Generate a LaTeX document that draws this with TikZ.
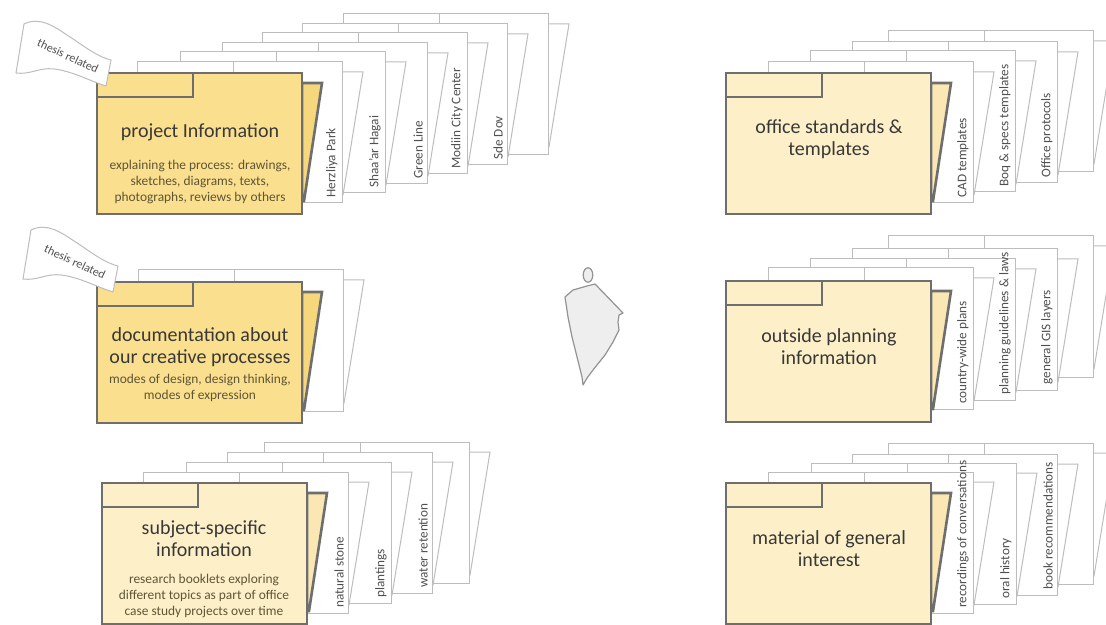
\documentclass[tikz,border=0pt]{standalone}
\usepackage{fontspec}
\setmainfont{Carlito}
\definecolor{framegray}{HTML}{6E6E6E}
\definecolor{backgray}{HTML}{BDBDBD}
\definecolor{labelgray}{HTML}{505050}
\definecolor{titlegray}{HTML}{383838}
\definecolor{notebrown}{HTML}{5E5535}
\definecolor{deepfill}{HTML}{FADF8F}
\definecolor{deepflap}{HTML}{F7D77B}
\definecolor{palefill}{HTML}{FDF0C9}
\definecolor{paleflap}{HTML}{FBE7B4}
\definecolor{figgray}{HTML}{EEEEEE}

% white folder inside a stack: name, x, y, tab text
\newcommand{\backfolder}[4]{%
  \begin{scope}[shift={(#2,#3)}]
    \filldraw[backframe, fill=white] (205,10) -- (226,10) -- (206,133) -- (205,133) -- cycle;
    \filldraw[backframe, fill=white] (0,0) rectangle (205,141);
    \draw[backframe] (0,24) -- (96,24) -- (96,0);
    \node[tablabel] (#1) at (203,138) {#4};
  \end{scope}}

% yellow folder at the front: x, y, body colour, flap colour
\newcommand{\mainfolder}[4]{%
  \begin{scope}[shift={(#1,#2)}]
    \filldraw[mainframe, fill=#4] (205,10) -- (225,10) -- (207,128) -- (205,128) -- cycle;
    \filldraw[mainframe, fill=#3] (0,0) rectangle (205,141);
    \draw[mainframe] (0,24) -- (96,24) -- (96,0);
  \end{scope}}

% waving tag: name, x, y
\newcommand{\thesisflag}[3]{%
  \begin{scope}[shift={(#2,#3)}]
    \filldraw[flagline] (24,24) .. controls (40,16) and (55,27) .. (67,35)
      .. controls (80,43) and (95,56) .. (111,60) -- (106,86)
      .. controls (90,81) and (72,71) .. (54,69)
      .. controls (40,67) and (30,75) .. (16,73) -- cycle;
    \node[flagtext] (#1) at (68,56) {thesis related};
  \end{scope}}

\begin{document}
\begin{tikzpicture}[x=0.5pt, y=-0.5pt,
    mainframe/.style={draw=framegray, line width=1.3pt, line join=miter},
    backframe/.style={draw=backgray, line width=0.5pt},
    flagline/.style={draw=backgray, fill=white, line width=0.5pt},
    figline/.style={draw=gray!85, fill=figgray, line width=0.6pt, line join=round},
    tablabel/.style={rotate=90, anchor=south west, inner sep=1pt,
      font=\fontsize{6.6}{7}\selectfont, text=labelgray},
    flagtext/.style={rotate=-25, font=\fontsize{6}{7}\selectfont, text=labelgray},
    foldertitle/.style={align=center, font=\fontsize{10}{11}\selectfont, text=titlegray},
    foldernote/.style={align=center, font=\fontsize{6.7}{8}\selectfont, text=notebrown}]
  \useasboundingbox (0,0) rectangle (1106,625);
  \clip (0,0) rectangle (1106,625);

  % ── project information ─────────────────────────────
  \backfolder{spareA}{343}{14}{}
  \backfolder{sdedov}{302}{24}{Sde Dov}
  \backfolder{modiin}{262}{33}{Modiin City Center}
  \backfolder{greenline}{222}{43}{Green Line}
  \backfolder{shaar}{180}{52}{Shaa’ar Hagai}
  \backfolder{herzliya}{137}{62}{Herzliya Park}
  \mainfolder{97}{73}{deepfill}{deepflap}
  \node[foldertitle] (projtitle) at (200,132) {project Information};
  \node[foldernote] (projnote) at (200,182)
    {explaining the process: drawings,\\sketches, diagrams, texts,\\photographs, reviews by others};

  % ── creative processes ──────────────────────────────
  \backfolder{spareB}{138}{270}{}
  \mainfolder{97}{282}{deepfill}{deepflap}
  \node[foldertitle] (doctitle) at (200,347) {documentation about\\our creative processes};
  \node[foldernote] (docnote) at (200,388) {modes of design, design thinking,\\modes of expression};

  % ── subject-specific ────────────────────────────────
  \backfolder{spareC}{264}{442}{}
  \backfolder{water}{227}{452}{water retention}
  \backfolder{plantings}{186}{462}{plantings}
  \backfolder{stone}{143}{472}{natural stone}
  \mainfolder{102}{483}{palefill}{paleflap}
  \node[foldertitle] (subjtitle) at (204,539) {subject-specific\\information};
  \node[foldernote] (subjnote) at (204,596)
    {research booklets exploring\\different topics as part of office\\case study projects over time};

  % ── office standards ────────────────────────────────
  \backfolder{spareD}{888}{31}{}
  \backfolder{protocols}{852}{42}{Office protocols}
  \backfolder{boq}{810}{51}{Boq \& specs templates}
  \backfolder{cad}{768}{62}{CAD templates}
  \mainfolder{726}{73}{palefill}{paleflap}
  \node[foldertitle] (officetitle) at (829,139) {office standards \&\\templates};

  % ── outside planning ────────────────────────────────
  \backfolder{spareE}{888}{236}{}
  \backfolder{gis}{852}{249}{general GIS layers}
  \backfolder{guidelines}{810}{259}{planning guidelines \& laws}
  \backfolder{countryplans}{768}{268}{country-wide plans}
  \mainfolder{726}{281}{palefill}{paleflap}
  \node[foldertitle] (planningtitle) at (829,347) {outside planning\\information};

  % ── general interest ────────────────────────────────
  \backfolder{spareF}{888}{443}{}
  \backfolder{books}{852}{454}{book recommendations}
  \backfolder{oralhistory}{811}{463}{oral history}
  \backfolder{recordings}{768}{472}{recordings of conversations}
  \mainfolder{726}{483}{palefill}{paleflap}
  \node[foldertitle] (materialtitle) at (829,549) {material of general\\interest};

  % figure in the middle
  \filldraw[figline] (565,297) -- (573,290) -- (587,286) -- (595,284) -- (623,313)
    -- (619,315) -- (618,322) -- (619,330) -- (613,342) -- (605,355) -- (593,370)
    -- (587,378) -- (583,385) -- (582,377) -- (577,357) -- (572,337) -- (568,317) -- cycle;
  \filldraw[figline] (588,275) ellipse [x radius=2.4pt, y radius=3.6pt];

  % tags on top
  \thesisflag{thesisA}{0}{0}
  \thesisflag{thesisB}{7}{206}
\end{tikzpicture}
\end{document}
